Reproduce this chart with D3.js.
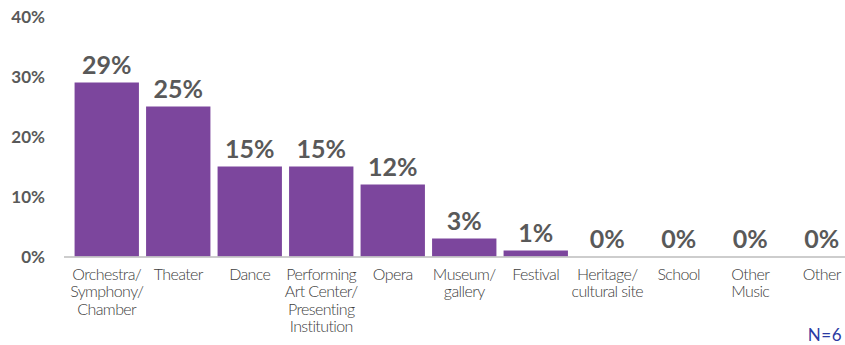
<!DOCTYPE html>
<html>
<head>
<meta charset="utf-8">
<script src="https://cdn.jsdelivr.net/npm/d3@7"></script>
<style>
  html, body { margin: 0; padding: 0; background: #fff; }
  svg { display: block; }
</style>
</head>
<body>
<svg id="chart" width="845" height="345"></svg>
<script>
// Venue types (line breaks mark how each label wraps)
const categories = [
  "Orchestra/\nSymphony/\nChamber",
  "Theater",
  "Dance",
  "Performing\nArt Center/\nPresenting\nInstitution",
  "Opera",
  "Museum/\ngallery",
  "Festival",
  "Heritage/\ncultural site",
  "School",
  "Other\nMusic",
  "Other"
];
// Share of respondents, in percent
const values = [29, 25, 15, 15, 12, 3, 1, 0, 0, 0, 0];
const yTicks = [0, 10, 20, 30, 40];
const sampleNote = "N=6";

const svg = d3.select("#chart");
const W = 845, H = 345;
const margin = { top: 16.5, right: 14, bottom: 88.5, left: 71 };
const plotH = H - margin.top - margin.bottom;

const x = d3.scaleBand()
  .domain(categories)
  .range([margin.left, margin.left + 71.5 * categories.length])
  .paddingInner(0.1)
  .paddingOuter(0.05);

const y = d3.scaleLinear()
  .domain([0, 40])
  .range([margin.top + plotH, margin.top]);

const grey = "#595959";
const purple = "#7C469D";
const labelFont = "Lato, 'Open Sans', sans-serif";

// Y axis: labels only
const yAxis = d3.axisLeft(y)
  .tickValues(yTicks)
  .tickFormat(d => d + "%")
  .tickSize(0)
  .tickPadding(0);

const yg = svg.append("g")
  .attr("transform", `translate(45,0)`)
  .call(yAxis);
yg.select(".domain").remove();
yg.selectAll("text")
  .attr("fill", grey)
  .style("font-family", labelFont)
  .style("font-weight", "700")
  .style("font-size", "17px")
  .attr("dy", "0.36em");

// Bars
svg.append("g")
  .selectAll("rect")
  .data(values)
  .join("rect")
  .attr("x", (d, i) => x(categories[i]))
  .attr("width", x.bandwidth())
  .attr("y", d => y(d))
  .attr("height", d => y(0) - y(d))
  .attr("fill", purple);

// Baseline
svg.append("line")
  .attr("x1", 64)
  .attr("x2", W)
  .attr("y1", y(0) + 0.5)
  .attr("y2", y(0) + 0.5)
  .attr("stroke", "#bdbdbd")
  .attr("stroke-width", 1.5);

// Value labels above bars
svg.append("g")
  .selectAll("text")
  .data(values)
  .join("text")
  .attr("x", (d, i) => x(categories[i]) + x.bandwidth() / 2)
  .attr("y", d => y(d) - 9)
  .attr("text-anchor", "middle")
  .attr("fill", grey)
  .style("font-family", labelFont)
  .style("font-weight", "700")
  .style("font-size", "25px")
  .text(d => d + "%");

// Category labels
const xg = svg.append("g");
categories.forEach(c => {
  const cx = x(c) + x.bandwidth() / 2;
  const t = xg.append("text")
    .attr("x", cx)
    .attr("y", y(0) + 23)
    .attr("text-anchor", "middle")
    .attr("fill", "#404040")
    .style("font-family", labelFont)
    .style("font-weight", "300")
    .style("font-size", "16px")
    .style("letter-spacing", "-0.6px");
  c.split("\n").forEach((line, j) => {
    t.append("tspan")
      .attr("x", cx)
      .attr("dy", j === 0 ? 0 : 17.5)
      .text(line);
  });
});

// Sample size note
svg.append("text")
  .attr("x", W - 3)
  .attr("y", 341)
  .attr("text-anchor", "end")
  .attr("fill", "#2B3AA3")
  .style("font-family", labelFont)
  .style("font-weight", "400")
  .style("font-size", "17px")
  .style("letter-spacing", "0.5px")
  .text(sampleNote);
</script>
</body>
</html>
